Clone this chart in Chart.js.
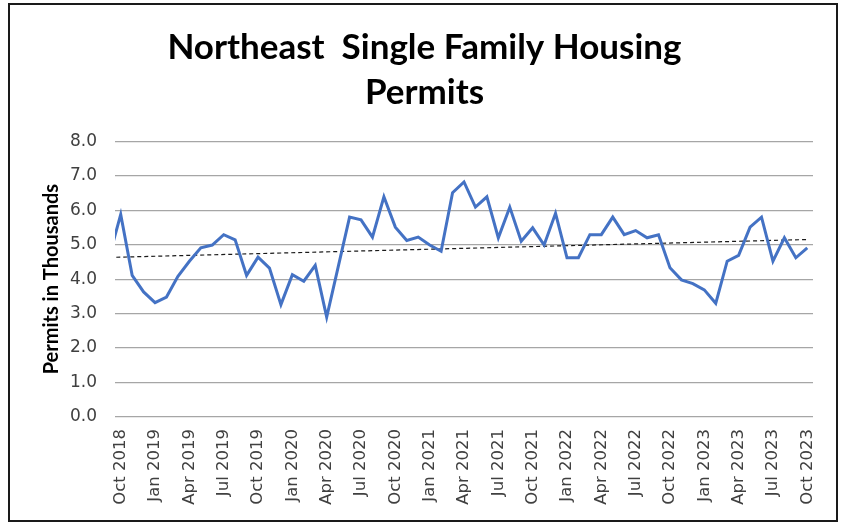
<!DOCTYPE html>
<html>
<head>
<meta charset="utf-8">
<script src="https://cdn.jsdelivr.net/npm/chart.js@4.4.1/dist/chart.umd.min.js"></script>
<style>
    html, body { margin: 0; padding: 0; background: #fff; }
    #wrap { position: relative; width: 842px; height: 523px; }
    #frame {
        position: absolute; left: 8px; top: 3px; width: 830px; height: 519px;
        border: 2px solid #1a1a1a; box-sizing: border-box; pointer-events: none;
    }
    canvas { position: absolute; left: 0; top: 0; }
</style>
</head>
<body>
<div id="wrap">
    <canvas id="permitChart" width="842" height="523"></canvas>
    <div id="frame"></div>
</div>
<script>
// x index 0 = Sep 2018, index 61 = Oct 2023
const tickLabels = ['Oct 2018', 'Jan 2019', 'Apr 2019', 'Jul 2019', 'Oct 2019', 'Jan 2020', 'Apr 2020',
    'Jul 2020', 'Oct 2020', 'Jan 2021', 'Apr 2021', 'Jul 2021', 'Oct 2021', 'Jan 2022', 'Apr 2022',
    'Jul 2022', 'Oct 2022', 'Jan 2023', 'Apr 2023', 'Jul 2023', 'Oct 2023'];

// permits in thousands, Sep 2018 .. Oct 2023
const permits = [
    4.65,                                   // Sep 2018 (cut off at the left edge)
    5.88, 4.11, 3.63,                       // Oct-Dec 2018
    3.32, 3.48, 4.08, 4.52, 4.91, 4.99, 5.29, 5.14, 4.11, 4.64, 4.32, 3.26,   // 2019
    4.13, 3.94, 4.40, 2.90, 4.35, 5.80, 5.72, 5.22, 6.39, 5.51, 5.12, 5.22,   // 2020
    4.99, 4.81, 6.51, 6.82, 6.09, 6.39, 5.20, 6.09, 5.10, 5.49, 4.99, 5.91,   // 2021
    4.62, 4.62, 5.29, 5.29, 5.80, 5.29, 5.41, 5.20, 5.29, 4.33, 3.98, 3.87,   // 2022
    3.69, 3.30, 4.52, 4.69, 5.51, 5.80, 4.52, 5.20, 4.62, 4.91                // 2023
];

// linear trendline: start and end values
const trendValues = [4.63, 5.15];

const permitPoints = permits.map(function (v, i) { return { x: i, y: v }; });
const trendPoints = [{ x: 0, y: trendValues[0] }, { x: permits.length - 1, y: trendValues[1] }];
const tickPositions = tickLabels.map(function (t, i) { return 1 + i * 3; });

const ctx = document.getElementById('permitChart').getContext('2d');

const permitChart = new Chart(ctx, {
    type: 'line',
    data: {
        datasets: [{
            label: 'Permits',
            data: permitPoints,
            borderColor: '#4472C4',
            borderWidth: 3,
            pointRadius: 0,
            tension: 0,
            clip: 0,
            order: 0
        }, {
            label: 'Trend',
            data: trendPoints,
            borderColor: '#1a1a1a',
            borderWidth: 1.2,
            borderDash: [4, 3],
            pointRadius: 0,
            clip: 0,
            order: 1
        }]
    },
    options: {
        responsive: false,
        animation: false,
        layout: {
            padding: { left: 36, right: 29, top: 11, bottom: 10 }
        },
        plugins: {
            legend: { display: false },
            tooltip: { enabled: false },
            title: {
                display: true,
                text: ['Northeast  Single Family Housing', 'Permits'],
                color: '#000',
                font: { family: 'Lato', size: 35, weight: 'bold', lineHeight: 1.29 },
                padding: { top: 14, bottom: 26 }
            }
        },
        scales: {
            x: {
                type: 'linear',
                min: 0.5,
                max: 61.5,
                grid: { display: false, drawTicks: false },
                border: { display: false },
                afterBuildTicks: function (scale) {
                    scale.ticks = tickPositions.map(function (v) { return { value: v }; });
                },
                afterFit: function (scale) {
                    scale.height = 96;
                },
                ticks: {
                    autoSkip: false,
                    minRotation: 90,
                    maxRotation: 90,
                    padding: 12,
                    color: '#404040',
                    font: { family: 'DejaVu Sans', size: 16.5 },
                    callback: function (value) {
                        const idx = tickPositions.indexOf(value);
                        return idx >= 0 ? tickLabels[idx] : '';
                    }
                }
            },
            y: {
                min: 0,
                max: 8,
                grid: { color: '#a6a6a6', lineWidth: 1.3, drawTicks: false },
                border: { display: false },
                afterFit: function (scale) {
                    scale.width = 79;
                },
                ticks: {
                    stepSize: 1,
                    padding: 18,
                    color: '#404040',
                    font: { family: 'DejaVu Sans', size: 17 },
                    callback: function (value) { return value.toFixed(1); }
                },
                title: {
                    display: true,
                    text: 'Permits in Thousands',
                    color: '#000',
                    font: { family: 'Lato', size: 20, weight: 'bold', lineHeight: 1.2 },
                    padding: { top: 4, bottom: 0 }
                }
            }
        }
    }
});
</script>
</body>
</html>
